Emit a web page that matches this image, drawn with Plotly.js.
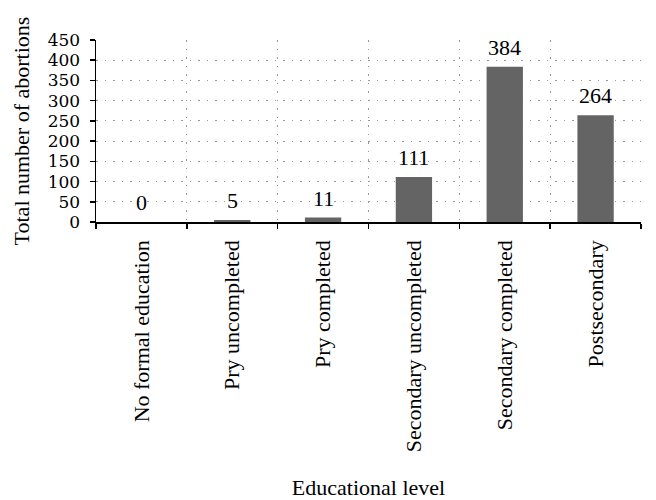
<!DOCTYPE html>
<html><head><meta charset="utf-8">
<script src="https://cdn.plot.ly/plotly-3.0.1.min.js"></script>
<style>body{margin:0;padding:0;background:#fff}#chart{width:656px;height:500px}</style>
</head><body><div id="chart"></div>
<script>
var categories = ["No formal education","Pry uncompleted","Pry completed","Secondary uncompleted","Secondary completed","Postsecondary"];
var abortions = [0, 5, 11, 111, 384, 264];
var yTickValues = [0,50,100,150,200,250,300,350,400,450];

var font = {family: "Liberation Serif, Times New Roman, serif", size: 22, color: "#000"};
var yTickFont = {family: "DejaVu Serif, serif", size: 17, color: "#000"};

var trace = {
  type: "bar",
  x: categories,
  y: abortions,
  width: 0.4,
  marker: {color: "#646464", line: {color: "#646464", width: 0}},
  hoverinfo: "none"
};

var annotations = categories.map(function(c, i){
  return {x: c, y: abortions[i], text: String(abortions[i]), showarrow: false,
          xref: "x", yref: "y", yanchor: "bottom", yshift: 5, font: font};
});

var layout = {
  width: 656, height: 500,
  margin: {l: 96, r: 15, t: 40, b: 278},
  paper_bgcolor: "#fff", plot_bgcolor: "#fff",
  font: font,
  showlegend: false,
  xaxis: {
    type: "category",
    tickson: "boundaries",
    ticks: "outside", ticklen: 5, tickcolor: "#000", tickwidth: 1.5,
    showline: true, linecolor: "#000", linewidth: 1.5,
    showgrid: true, gridcolor: "#999", gridwidth: 1.2, griddash: "1.5px,7px",
    tickangle: -90, tickfont: font, ticklabelstandoff: 8,
    title: {text: "Educational level", font: font, standoff: 30},
    automargin: false
  },
  yaxis: {
    range: [0, 450], tickvals: yTickValues, ticktext: yTickValues.map(String),
    ticks: "outside", ticklen: 5, tickcolor: "#000", tickwidth: 1.5,
    showline: true, linecolor: "#000", linewidth: 1.5,
    showgrid: true, gridcolor: "#999", gridwidth: 1.2, griddash: "1.5px,7px",
    zeroline: false,
    tickfont: yTickFont, ticklabelstandoff: 6,
    title: {text: "Total number of abortions", font: font, standoff: 12},
    automargin: false
  },
  annotations: annotations
};

Plotly.newPlot("chart", [trace], layout, {displayModeBar: false, staticPlot: true});
</script></body></html>
